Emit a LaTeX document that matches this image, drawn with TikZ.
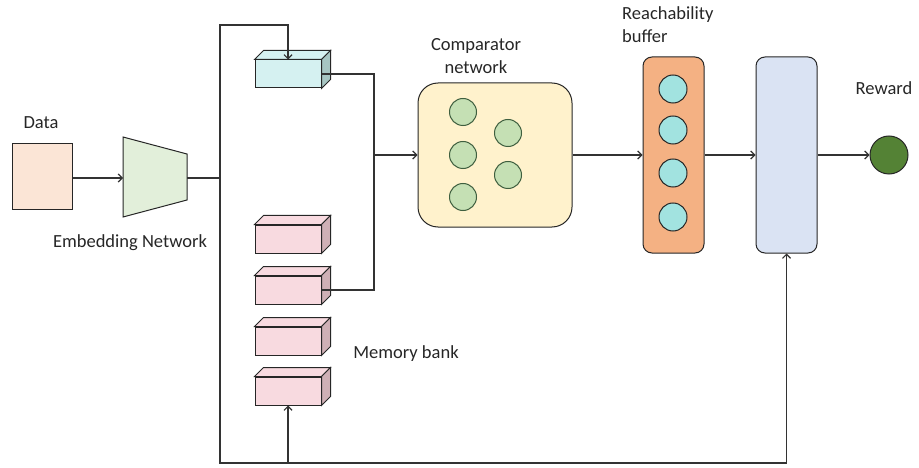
\documentclass[tikz,border=0pt]{standalone}
\usepackage{fontspec}
\setmainfont{Carlito}
\usetikzlibrary{arrows.meta,calc}
\definecolor{datafill}{HTML}{FBE5D6}
\definecolor{embfill}{HTML}{E2EFDA}
\definecolor{cyanfront}{HTML}{D5F1F1}
\definecolor{cyanside}{HTML}{A7C6C3}
\definecolor{pinkfront}{HTML}{F8DAE0}
\definecolor{pinkside}{HTML}{CFB0B6}
\definecolor{compfill}{HTML}{FFF2CC}
\definecolor{neurfill}{HTML}{C5E0B4}
\definecolor{neurline}{HTML}{3F5F3F}
\definecolor{bufffill}{HTML}{F4B183}
\definecolor{buffcirc}{HTML}{A2E3E0}
\definecolor{bluefill}{HTML}{DAE3F3}
\definecolor{rewfill}{HTML}{548235}
\definecolor{linec}{HTML}{333333}
\tikzset{
  line/.style={draw=linec,line width=1.2pt},
  arr/.style={line,-{Straight Barb[length=4pt,width=8pt]}},
  outl/.style={draw=black!85,line width=1pt},
  lbl/.style={font=\fontsize{18.5}{23}\selectfont,text=black!85,inner sep=0pt},
  front/.style={outl,minimum width=66pt,minimum height=28pt,inner sep=0pt},
  neuron/.style={circle,outl,draw=neurline,fill=neurfill,minimum size=27pt,inner sep=0pt},
  bneuron/.style={circle,outl,fill=buffcirc,minimum size=28pt,inner sep=0pt},
}
\newcommand{\boxthreed}[4]{%
  \node[front,fill=#3] (#1) at (#2) {};
  \draw[outl,fill=#3] (#1.north west) -- ++(9pt,9pt) -- ($(#1.north east)+(9pt,9pt)$) -- (#1.north east) -- cycle;
  \draw[outl,fill=#4] (#1.north east) -- ++(9pt,9pt) -- ($(#1.south east)+(9pt,9pt)$) -- (#1.south east) -- cycle;
}
\begin{document}
\begin{tikzpicture}[x=1pt,y=-1pt]
\useasboundingbox (0,0) rectangle (919,468);
% Data
\node[outl,fill=datafill,minimum width=60pt,minimum height=66pt,inner sep=0pt] (data) at (42,177) {};
\node[lbl] (datal) at (41,123) {Data};
% Embedding trapezoid
\draw[outl,fill=embfill] (123,137) -- (187,154) -- (187,200) -- (123,217) -- cycle;
\coordinate (embL) at (123,178);
\coordinate (embR) at (187,178);
\node[lbl] (embl) at (130,243) {Embedding Network};
% boxes
\boxthreed{cyan}{288,74}{cyanfront}{cyanside}
\boxthreed{mem1}{288,239}{pinkfront}{pinkside}
\boxthreed{mem2}{288,290}{pinkfront}{pinkside}
\boxthreed{mem3}{288,341}{pinkfront}{pinkside}
\boxthreed{mem4}{288,391}{pinkfront}{pinkside}
\node[lbl] (meml) at (406,354) {Memory bank};
% Comparator
\node[outl,fill=compfill,rounded corners=20pt,minimum width=154pt,minimum height=144pt,inner sep=0pt] (comp) at (495,155) {};
\node[lbl,align=center] (compl) at (476,56) {Comparator\\network};
\node[neuron] (n1) at (463,112) {};
\node[neuron] (n2) at (463,155) {};
\node[neuron] (n3) at (463,197) {};
\node[neuron] (n4) at (508,133) {};
\node[neuron] (n5) at (508,175) {};
% Reachability buffer
\node[outl,fill=bufffill,rounded corners=9pt,minimum width=61pt,minimum height=196pt,inner sep=0pt] (buf) at (673.5,155) {};
\node[lbl,align=left,anchor=west] (bufl) at (622,25) {Reachability\\buffer};
\node[bneuron] (b1) at (673,89) {};
\node[bneuron] (b2) at (673,130) {};
\node[bneuron] (b3) at (673,173) {};
\node[bneuron] (b4) at (673,217) {};
% Blue box
\node[outl,fill=bluefill,rounded corners=9pt,minimum width=61pt,minimum height=196pt,inner sep=0pt] (blue) at (786.5,155) {};
% Reward
\node[circle,outl,fill=rewfill,minimum size=38pt,inner sep=0pt] (rew) at (889,155) {};
\node[lbl] (rewl) at (884,88) {Reward};
% junctions
\coordinate (j1) at (220,178);
\coordinate (jt) at (220,25);
\coordinate (jb) at (220,463);
\coordinate (jm) at (374,155);
% connectors
\draw[arr] (data.east |- embL) -- (embL);
\draw[line] (embR) -- (j1);
\draw[arr] (j1) -- (jt) -- (cyan.north |- jt) -- (cyan.north);
\draw[arr] (j1) -- (jb) -- (mem4.south |- jb) -- (mem4.south);
\draw[arr] (jb) -- (blue.south |- jb) -- (blue.south);
\draw[line] (cyan.east) -- (jm |- cyan.east) -- (jm);
\draw[line] (mem2.east) -- (jm |- mem2.east) -- (jm);
\draw[arr] (jm) -- (comp.west);
\draw[arr] (comp.east) -- (buf.west);
\draw[arr] (buf.east) -- (blue.west);
\draw[arr] (blue.east) -- (rew.west);
\end{tikzpicture}
\end{document}
